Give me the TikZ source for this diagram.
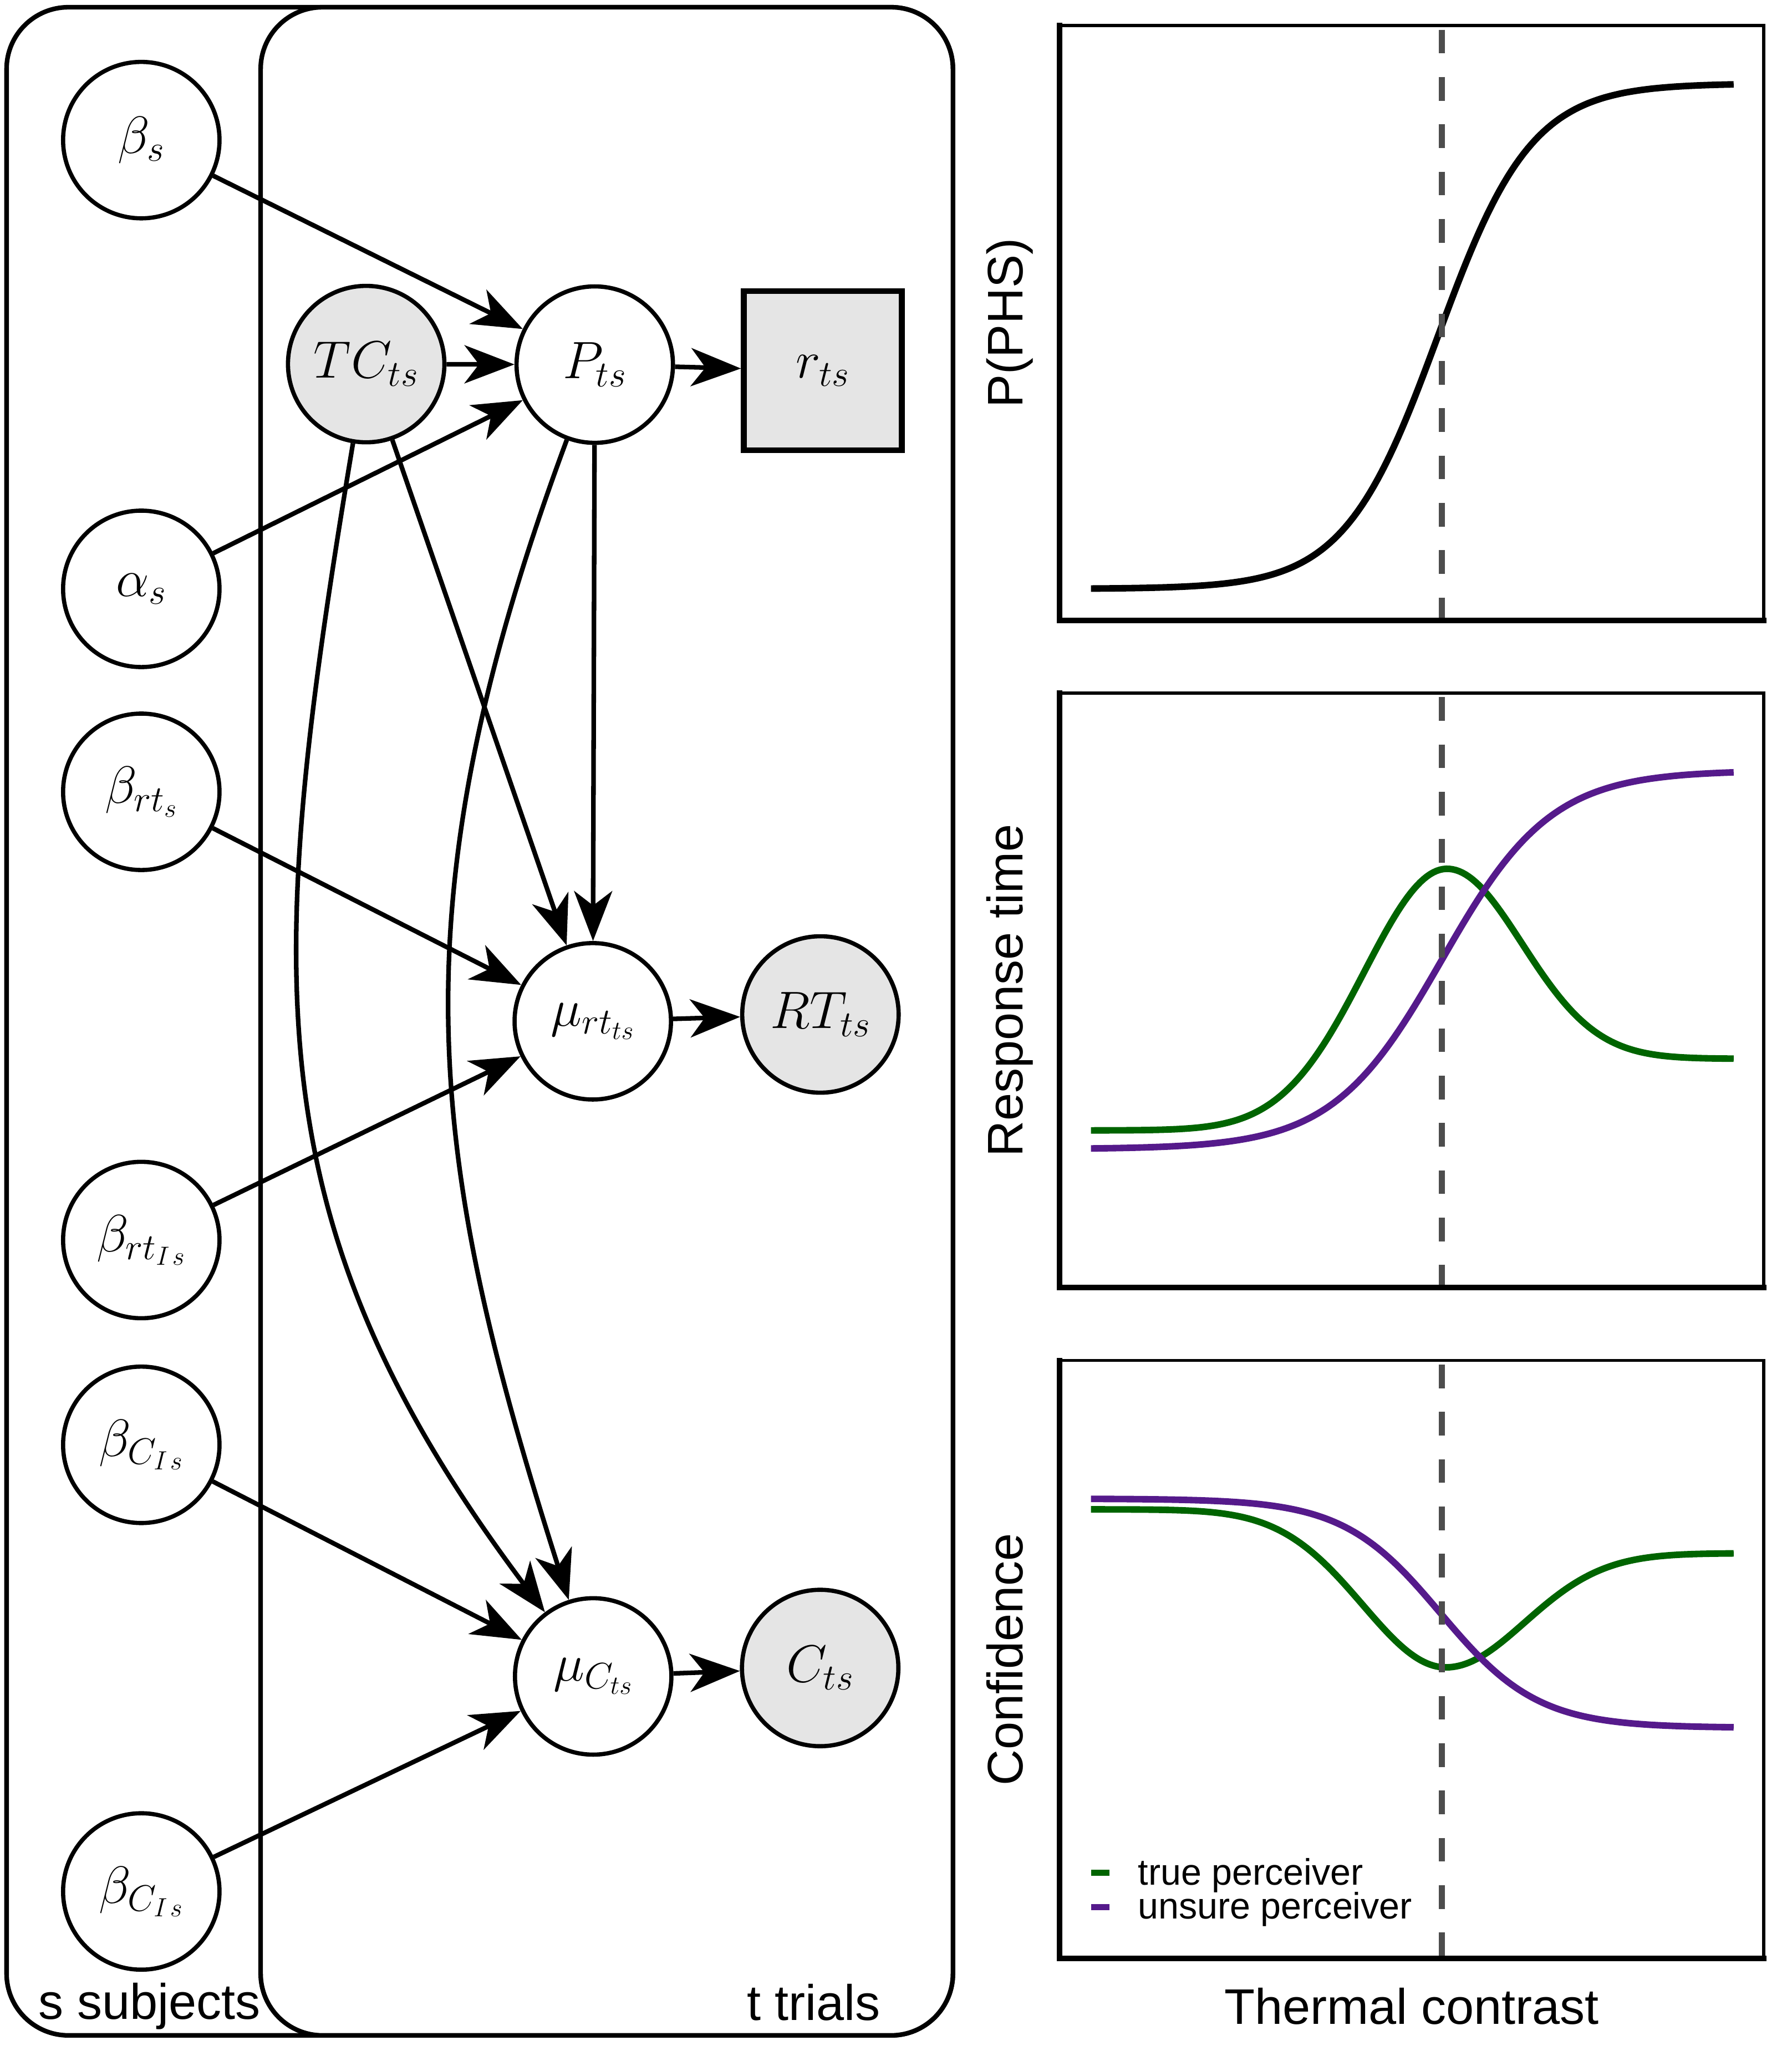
\RequirePackage{fix-cm}
\documentclass[tikz,border=0pt]{standalone}
\usepackage{fontspec}
\newfontfamily\plotfont{Liberation Sans}
\usetikzlibrary{arrows.meta}

\definecolor{obsgray}{HTML}{E5E5E5}
\definecolor{truegreen}{HTML}{006400}
\definecolor{unsurepurple}{HTML}{551A8B}
\definecolor{dashgray}{HTML}{4D4D4D}

\tikzset{
  latent/.style={circle, draw, line width=3.2pt, minimum size=119pt, inner sep=0pt,
    fill=white, font=\fontsize{40}{42}\selectfont},
  observed/.style={latent, fill=obsgray},
  obsbox/.style={rectangle, draw, line width=4.5pt, minimum width=120pt, minimum height=121pt,
    inner sep=0pt, fill=obsgray, font=\fontsize{40}{42}\selectfont},
  plate/.style={draw, line width=3.5pt, rounded corners=47pt},
  edge/.style={line width=3.5pt, -{Stealth[length=38pt,width=29pt,inset=11pt]}},
  bigtext/.style={font=\plotfont\fontsize{38}{40}\selectfont, inner sep=0pt},
  legtext/.style={font=\plotfont\fontsize{28}{30}\selectfont, inner sep=0pt, anchor=base west},
  thinframe/.style={line width=2.5pt},
  thickframe/.style={line width=4.2pt, line cap=rect},
  curve/.style={line width=5pt, line join=round},
  vline/.style={dashgray, line width=4.7pt, dash pattern=on 18pt off 18pt},
}

\begin{document}
\begin{tikzpicture}[x=1pt, y=-1pt]
\path[use as bounding box] (0,0) rectangle (1363,1568);

% plates
\draw[plate] (5,5.5) rectangle (725,1548.5);
\draw[plate, fill=white] (198.3,5.5) rectangle (725,1548.5);
\node[bigtext, anchor=base west] (slabel) at (29,1536) {s subjects};
\node[bigtext, anchor=base east] (tlabel) at (670,1537) {t trials};

% nodes of the graphical model
\node[latent]   (bs)   at (107.5,106.6)  {$\beta_s$};
\node[observed] (TC)   at (278.6,277)    {$TC_{ts}$};
\node[latent]   (P)    at (452.5,277.4)  {$P_{ts}$};
\node[obsbox]   (r)    at (626,282)      {$r_{ts}$};
\node[latent]   (al)   at (107.5,448)    {$\alpha_s$};
\node[latent]   (brt)  at (107.5,602.4)  {$\beta_{rt_s}$};
\node[latent]   (murt) at (451,777)      {$\mu_{rt_{ts}}$};
\node[observed] (RT)   at (624.2,771.8)  {$RT_{ts}$};
\node[latent]   (brtI) at (107.5,943.4)  {$\beta_{rt_{I\mkern2mu s}}$};
\node[latent]   (bCa)  at (107.5,1099.2) {$\beta_{C_{I\mkern2mu s}}$};
\node[latent]   (muC)  at (451.3,1275.4) {$\mu_{C_{ts}}$};
\node[observed] (C)    at (624,1269)     {$C_{ts}$};
\node[latent]   (bCb)  at (107.5,1439)   {$\beta_{C_{I\mkern2mu s}}$};

% edges
\draw[edge] (bs) -- (P);
\draw[edge] (TC) -- (P);
\draw[edge] (al) -- (P);
\draw[edge] (P) -- (r);
\draw[edge] (TC) -- (murt);
\draw[edge] (P) -- (murt);
\draw[edge] (TC) .. controls (201.7,737.5) and (190,927.7) .. (muC);
\draw[edge] (P) .. controls (298,693.3) and (326.3,883.2) .. (muC);
\draw[edge] (brt) -- (murt);
\draw[edge] (brtI) -- (murt);
\draw[edge] (murt) -- (RT);
\draw[edge] (bCa) -- (muC);
\draw[edge] (bCb) -- (muC);
\draw[edge] (muC) -- (C);

% panel 1: probability of paradoxical heat sensation
\draw[curve, black] plot[domain=830:1319, samples=160]
  (\x, {448 - 384.5/(1+exp(-0.028*(\x-1094)))});
\draw[vline] (1097,22.6) -- (1097,472);
\draw[thinframe] (806,472) -- (806,19.4) -- (1341.7,19.4) -- (1341.7,472);
\draw[thickframe] (806,19.4) -- (806,472) -- (1341.7,472);
\node[bigtext, rotate=90, anchor=base] (ylab1) at (778,245.7) {P(PHS)};

% panel 2: response time
\draw[curve, truegreen] plot[domain=830:1319, samples=200]
  (\x, {ifthenelse(\x<1101, 860-199*exp(-0.5*((\x-1101)/63)^2), 805.5-144.5*exp(-0.5*((\x-1101)/57)^2))});
\draw[curve, unsurepurple] plot[domain=830:1319, samples=160]
  (\x, {874.2 - 288/(1+exp(-0.024*(\x-1097)))});
\draw[vline] (1097,530.4) -- (1097,979.7);
\draw[thinframe] (806,979.7) -- (806,527.2) -- (1341.7,527.2) -- (1341.7,979.7);
\draw[thickframe] (806,527.2) -- (806,979.7) -- (1341.7,979.7);
\node[bigtext, rotate=90, anchor=base] (ylab2) at (778,753.5) {Response time};

% panel 3: confidence
\draw[curve, truegreen] plot[domain=830:1319, samples=200]
  (\x, {ifthenelse(\x<1100, 1148.3+120.2*exp(-0.5*((\x-1100)/63)^2), 1181.7+86.8*exp(-0.5*((\x-1100)/60)^2))});
\draw[curve, unsurepurple] plot[domain=830:1319, samples=160]
  (\x, {1140.2 + 174.3/(1+exp(-0.027*(\x-1096)))});
\draw[vline] (1097,1038.2) -- (1097,1490);
\draw[thinframe] (806,1490) -- (806,1035) -- (1341.7,1035) -- (1341.7,1490);
\draw[thickframe] (806,1035) -- (806,1490) -- (1341.7,1490);
\node[bigtext, rotate=90, anchor=base] (ylab3) at (778,1262.5) {Confidence};

% legend
\fill[truegreen] (830,1422.5) rectangle (844.2,1427.1);
\fill[unsurepurple] (830,1448.7) rectangle (844.2,1453.3);
\node[legtext] (leg1) at (865.7,1433.9) {true perceiver};
\node[legtext] (leg2) at (865.7,1459.6) {unsure perceiver};

% x-axis label
\node[bigtext, anchor=base] (xlab) at (1074,1540) {Thermal contrast};
\end{tikzpicture}
\end{document}
